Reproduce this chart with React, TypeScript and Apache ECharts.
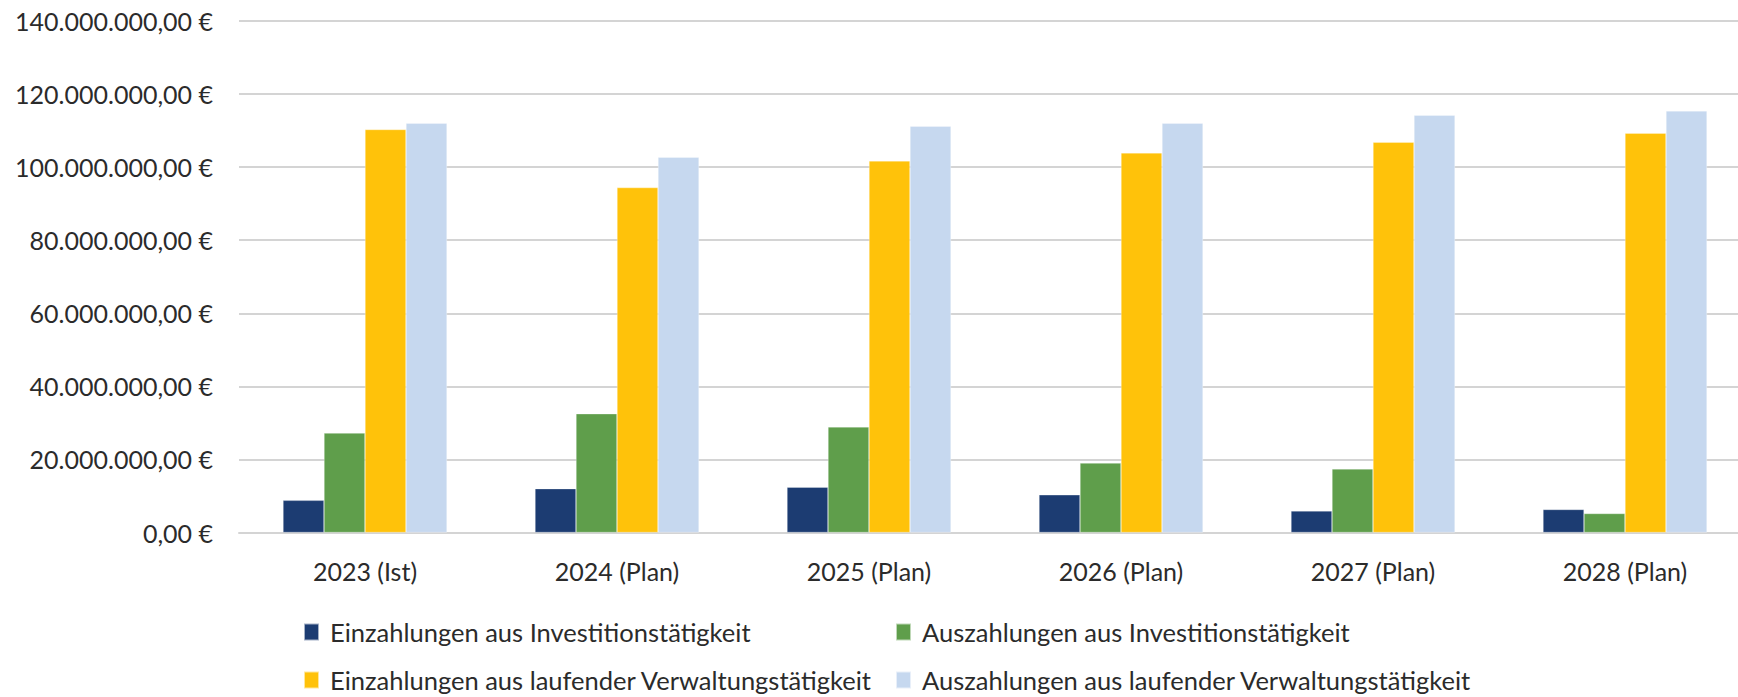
import React, { useEffect, useRef } from "react";
import * as echarts from "echarts";

const categories = ["2023 (Ist)", "2024 (Plan)", "2025 (Plan)", "2026 (Plan)", "2027 (Plan)", "2028 (Plan)"];

const einzahlungenInvest = [8800000, 12000000, 12400000, 10300000, 5900000, 6300000];
const auszahlungenInvest = [27200000, 32500000, 28900000, 19000000, 17400000, 5200000];
const einzahlungenLaufend = [110300000, 94400000, 101700000, 103900000, 106800000, 109300000];
const auszahlungenLaufend = [112000000, 102700000, 111200000, 112000000, 114200000, 115400000];

const seriesNames = [
  "Einzahlungen aus Investitionstätigkeit",
  "Auszahlungen aus Investitionstätigkeit",
  "Einzahlungen aus laufender Verwaltungstätigkeit",
  "Auszahlungen aus laufender Verwaltungstätigkeit",
];
const seriesColors = ["#1C3C72", "#5F9E4B", "#FFC20A", "#C6D8EF"];

const yMin = 0;
const yMax = 140000000;
const yInterval = 20000000;

function formatEuro(v: number): string {
  const intPart = Math.floor(Math.abs(v));
  const s = String(intPart).replace(/\B(?=(\d{3})+(?!\d))/g, ".");
  return s + ",00 €";
}

const FONT = "Lato";
const TEXT_COLOR = "#2b2b2b";
const FS = 25;
const LEGEND_FS = 25.5;

export default function App() {
  const ref = useRef<HTMLDivElement>(null);

  useEffect(() => {
    if (!ref.current) return;
    const chart = echarts.init(ref.current, null, { renderer: "svg" });
    const data = [einzahlungenInvest, auszahlungenInvest, einzahlungenLaufend, auszahlungenLaufend];

    const legendPos = [
      { left: 303, top: 619 },
      { left: 895, top: 619 },
      { left: 303, top: 667 },
      { left: 895, top: 667 },
    ];

    chart.setOption({
      animation: false,
      backgroundColor: "#ffffff",
      textStyle: { fontFamily: FONT },
      grid: { left: 239, top: 21, width: 1512, height: 511.5, containLabel: false },
      legend: seriesNames.map((n, i) => ({
        data: [n],
        left: legendPos[i].left,
        top: legendPos[i].top,
        orient: "horizontal",
        itemWidth: 15,
        itemHeight: 17,
        icon: "rect",
        selectedMode: false,
        padding: 0,
        textStyle: { fontFamily: FONT, fontSize: LEGEND_FS, color: TEXT_COLOR, padding: [0, 0, 0, 6] },
      })),
      xAxis: {
        type: "category",
        data: categories,
        axisLine: { show: true, lineStyle: { color: "#d4d4d4", width: 2 } },
        axisTick: { show: false },
        axisLabel: { fontFamily: FONT, fontSize: FS, color: TEXT_COLOR, margin: 26 },
      },
      yAxis: {
        type: "value",
        min: yMin,
        max: yMax,
        interval: yInterval,
        axisLine: { show: false },
        axisTick: { show: false },
        splitLine: { lineStyle: { color: "#d4d4d4", width: 2 } },
        axisLabel: {
          fontFamily: FONT,
          fontSize: FS,
          color: TEXT_COLOR,
          margin: 26,
          formatter: (v: number) => formatEuro(v),
        },
      },
      series: seriesNames.map((n, i) => ({
        name: n,
        type: "bar",
        data: data[i],
        barWidth: 41,
        barGap: "0%",
        itemStyle: { color: seriesColors[i], borderColor: "rgba(255,255,255,0.6)", borderWidth: 0.5 },
      })),
    });

    return () => chart.dispose();
  }, []);

  return (
    <div
      style={{ position: "absolute", left: 0, top: 0, width: 1738, height: 697, overflow: "hidden", background: "#fff" }}
    >
      <div ref={ref} style={{ width: 1770, height: 697 }} />
    </div>
  );
}
